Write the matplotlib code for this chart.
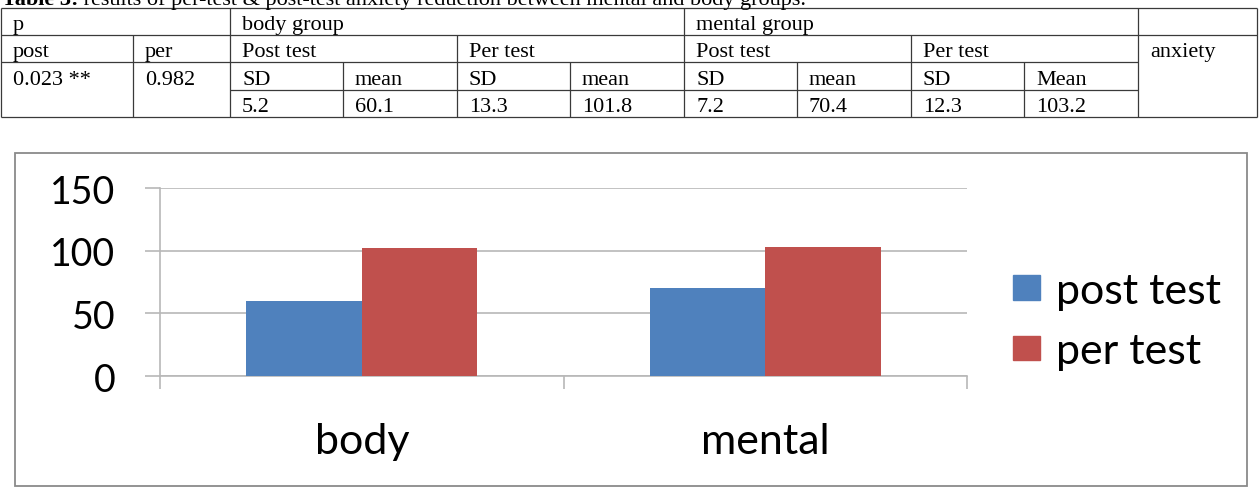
import matplotlib
matplotlib.use("Agg")
import matplotlib.pyplot as plt
import numpy as np
from matplotlib.patches import Rectangle, Patch

# данные таблицы и диаграммы
groups = ["body", "mental"]
post_mean = [60.1, 70.4]
per_mean = [101.8, 103.2]
post_sd = [5.2, 7.2]
per_sd = [13.3, 12.3]
p_values = ["0.023 **", "0.982"]
series_labels = ["post test", "per test"]
y_ticks = [0, 50, 100, 150]

BLUE = "#4F81BD"
RED = "#C0504D"
W, H = 1260, 489
SERIF = "Liberation Serif"
SANS = "Lato"

fig = plt.figure(figsize=(W / 100, H / 100), dpi=100)
bg = fig.add_axes([0, 0, 1, 1])
bg.set_xlim(0, W)
bg.set_ylim(H, 0)
bg.axis("off")

fs_tab = 16
line_kw = dict(color="#3a3a3a", lw=0.9, solid_capstyle="butt")

# заголовок таблицы (верх обрезан, как в оригинале)
t1 = bg.text(2, 5, "Table 3:", family=SERIF, fontsize=fs_tab, weight="bold", va="baseline")
bg.annotate(" results of per-test & post-test anxiety reduction between mental and body groups.",
            xy=(1, 0), xycoords=t1, va="bottom", ha="left", family=SERIF, fontsize=fs_tab)

# сетка таблицы
R = [9, 36, 63, 91, 118]
X = [1, 133, 230, 343, 457, 570, 684, 797, 911, 1024, 1138, 1257]

def hline(y, x0, x1):
    bg.plot([x0, x1], [y, y], **line_kw)

def vline(x, y0, y1):
    bg.plot([x, x], [y0, y1], **line_kw)

hline(R[0], X[0], X[-1])
hline(R[1], X[0], X[-1])
hline(R[2], X[0], X[10])
hline(R[3], X[2], X[10])
hline(R[4], X[0], X[-1])
vline(X[0], R[0], R[4])
vline(X[-1], R[0], R[4])
vline(X[1], R[1], R[4])
for x in (X[2], X[6], X[10]):
    vline(x, R[0], R[4])
for x in (X[4], X[8]):
    vline(x, R[1], R[4])
for x in (X[3], X[5], X[7], X[9]):
    vline(x, R[2], R[4])

def cell(x, row, s):
    bg.text(x + 12, R[row + 1] - 6, s, family=SERIF, fontsize=fs_tab, va="baseline", ha="left")

cell(X[0], 0, "p")
cell(X[2], 0, "body group")
cell(X[6], 0, "mental group")
cell(X[0], 1, "post")
cell(X[1], 1, "per")
cell(X[2], 1, "Post test")
cell(X[4], 1, "Per test")
cell(X[6], 1, "Post test")
cell(X[8], 1, "Per test")
cell(X[10], 1, "anxiety")
cell(X[0], 2, p_values[0])
cell(X[1], 2, p_values[1])
heads = ["SD", "mean", "SD", "mean", "SD", "mean", "SD", "Mean"]
vals = []
for i in range(len(groups)):
    vals += [post_sd[i], post_mean[i], per_sd[i], per_mean[i]]
for j in range(8):
    cell(X[2 + j], 2, heads[j])
    cell(X[2 + j], 3, f"{vals[j]:.1f}")

# рамка диаграммы
bg.add_patch(Rectangle((15, 154), 1247 - 15, 487 - 154, fill=False,
                       edgecolor="#8a8a8a", lw=1.3))

# диаграмма
x0, x1, y0, y1 = 160, 967, 189, 377
ax = fig.add_axes([x0 / W, 1 - y1 / H, (x1 - x0) / W, (y1 - y0) / H])
ax.set_facecolor("none")
xs = np.arange(len(groups))
bw = 1 / 3.5
ax.bar(xs - bw / 2, post_mean, bw, color=BLUE, zorder=3)
ax.bar(xs + bw / 2, per_mean, bw, color=RED, zorder=3)
ax.set_xlim(-0.5, len(groups) - 0.5)
ax.set_ylim(0, 150)

grid_c = "#b8b8b8"
ax.set_yticks(y_ticks)
ax.set_yticklabels([str(v) for v in y_ticks], family=SANS, fontsize=27)
ax.yaxis.grid(True, color=grid_c, lw=1.2, zorder=0)
ax.tick_params(axis="y", length=11, width=1.2, color=grid_c, pad=21)

ax.set_xticks(np.arange(len(groups) + 1) - 0.5)
ax.set_xticklabels([])
ax.set_xticks(xs, minor=True)
ax.set_xticklabels(groups, minor=True, family=SANS, fontsize=31)
ax.tick_params(axis="x", which="major", length=9, width=1.2, color=grid_c)
ax.tick_params(axis="x", which="minor", length=0, pad=33)

for s in ("top", "right"):
    ax.spines[s].set_visible(False)
for s in ("left", "bottom"):
    ax.spines[s].set_color(grid_c)
    ax.spines[s].set_linewidth(1.2)

handles = [Patch(color=BLUE), Patch(color=RED)]
fs_leg = 31
ax.legend(handles, series_labels, loc="center left",
          bbox_to_anchor=(1013 / W, 1 - 322 / H), bbox_transform=fig.transFigure,
          frameon=False, prop={"family": SANS, "size": fs_leg},
          handlelength=0.63, handleheight=0.51, handletextpad=0.37,
          labelspacing=0.52, borderpad=0, borderaxespad=0)

fig.savefig("out.png", dpi=100)
